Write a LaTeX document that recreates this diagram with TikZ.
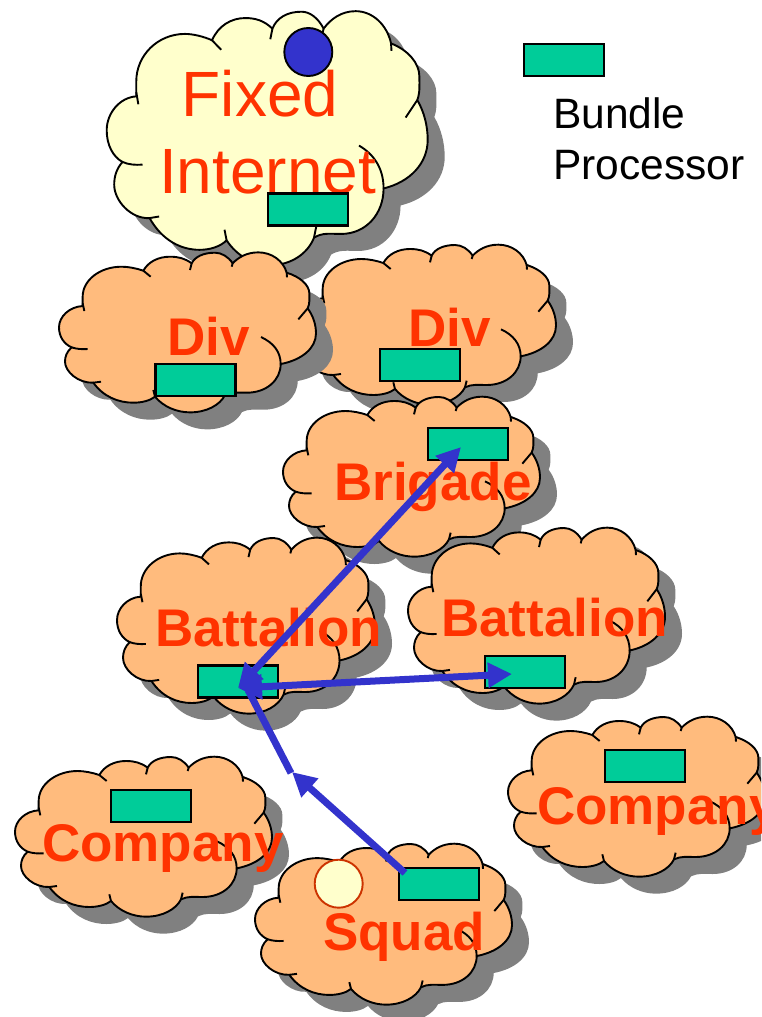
\documentclass[tikz,border=0pt]{standalone}
\usepackage{fontspec}
\setmainfont{Liberation Sans}
\usetikzlibrary{arrows.meta}
\definecolor{cloudyellow}{RGB}{255,255,204}
\definecolor{cloudorange}{RGB}{255,187,125}
\definecolor{shadowgray}{RGB}{128,128,128}
\definecolor{bundlegreen}{RGB}{0,204,153}
\definecolor{linkblue}{RGB}{51,51,204}
\definecolor{labelred}{RGB}{255,51,0}
\definecolor{ringred}{RGB}{204,51,0}
\newcommand{\cloudbody}{(128,198) .. controls (88,200) and (57,230) .. (57,262) .. controls (57,290) and (72,312) .. (95,322)
 .. controls (80,335) and (75,350) .. (75,365) .. controls (75,395) and (115,430) .. (160,428)
 .. controls (190,470) and (235,488) .. (280,488) .. controls (305,488) and (330,482) .. (345,470)
 .. controls (370,500) and (410,517) .. (450,517) .. controls (500,517) and (540,495) .. (555,465)
 .. controls (575,455) and (595,458) .. (620,458) .. controls (680,458) and (722,420) .. (722,372)
 .. controls (785,360) and (828,325) .. (828,280) .. controls (828,255) and (820,228) .. (803,205)
 .. controls (810,190) and (808,175) .. (808,160) .. controls (808,135) and (780,110) .. (740,98)
 .. controls (730,62) and (695,37) .. (655,37) .. controls (620,37) and (595,52) .. (578,70)
 .. controls (565,50) and (545,38) .. (525,38) .. controls (490,38) and (465,50) .. (455,70)
 .. controls (435,55) and (415,50) .. (390,50) .. controls (355,50) and (325,65) .. (310,92)
 .. controls (290,85) and (265,80) .. (245,80) .. controls (180,80) and (128,120) .. (128,170) -- cycle}
\newcommand{\mycloud}[5]{%
 \begin{scope}[shift={(#1+17,#2+17)},xscale={#3/771},yscale={#4/480},shift={(-57,-38)}]
  \fill[shadowgray] \cloudbody;
 \end{scope}
 \begin{scope}[shift={(#1,#2)},xscale={#3/771},yscale={#4/480},shift={(-57,-38)}]
  \filldraw[cloudline,fill=#5] \cloudbody;
  \draw[cloudline] (128,190) -- (133,213);
  \draw[cloudline] (95,322) .. controls (110,327) and (125,328) .. (143,327);
  \draw[cloudline] (160,428) -- (183,425);
  \draw[cloudline] (345,470) -- (340,450);
  \draw[cloudline] (555,465) -- (560,445);
  \draw[cloudline] (722,372) .. controls (722,335) and (700,308) .. (663,291);
  \draw[cloudline] (803,205) -- (775,238);
  \draw[cloudline] (740,98) -- (741,112);
  \draw[cloudline] (578,70) -- (575,80);
  \draw[cloudline] (455,70) -- (450,90);
  \draw[cloudline] (310,92) -- (332,110);
 \end{scope}}
\tikzset{
 cloudline/.style={draw=black,line width=1.9pt,line join=round},
 bundle/.style={draw=black,line width=2.2pt,fill=bundlegreen,minimum width=80pt,minimum height=32pt,inner sep=0pt},
 biglabel/.style={anchor=base west,inner sep=0pt,text=labelred,font=\fontsize{64}{64}\selectfont},
 boldlabel/.style={anchor=base west,inner sep=0pt,text=labelred,font=\fontsize{53}{53}\selectfont\bfseries},
 legendlabel/.style={anchor=base west,inner sep=0pt,text=black,font=\fontsize{42.5}{42.5}\selectfont},
 link/.style={draw=linkblue,line width=7pt},
 hubends/.style={{Triangle[length=24pt,width=24pt,color=linkblue]}-{Triangle[length=24pt,width=24pt,color=linkblue]}},
 tipend/.style={-{Triangle[length=24pt,width=24pt,color=linkblue]}}
}
\begin{document}
\begin{tikzpicture}[x=1pt,y=-1pt]
\clip (0,0) rectangle (761,1017);
\fill[white] (0,0) rectangle (761,1017);
% clouds
\mycloud{106.7}{11.7}{321}{254}{cloudyellow}
\mycloud{299}{245}{257}{160}{cloudorange}
\mycloud{59}{252.7}{257}{160}{cloudorange}
\mycloud{283}{397}{257}{160}{cloudorange}
\mycloud{117}{538}{258}{176}{cloudorange}
\mycloud{408}{528}{257}{176}{cloudorange}
\mycloud{15}{757}{257}{160}{cloudorange}
\mycloud{508}{717}{257}{160}{cloudorange}
\mycloud{255}{844}{257}{161}{cloudorange}
% labels
\node[biglabel] (fixed) at (181.5,116) {Fixed};
\node[biglabel] (internet) at (159,193) {Internet};
\node[boldlabel] (divone) at (167,355) {Div};
\node[boldlabel] (divtwo) at (408,346) {Div};
\node[boldlabel] (brigade) at (334,500) {Brigade};
\node[boldlabel] (batone) at (155,646) {Battalion};
\node[boldlabel] (battwo) at (441,636) {Battalion};
\node[boldlabel] (compone) at (42,861) {Company};
\node[boldlabel] (comptwo) at (537,824) {Company};
\node[boldlabel] (squad) at (323,950) {Squad};
\node[legendlabel] (bundleword) at (553,128) {Bundle};
\node[legendlabel] (processorword) at (553,179) {Processor};
% bundle processors
\node[bundle] (legendbox) at (564,60) {};
\node[bundle] (fixedbox) at (308,209.5) {};
\node[bundle] (divonebox) at (195.5,380) {};
\node[bundle] (divtwobox) at (420,365) {};
\node[bundle] (brigadebox) at (468,444) {};
\node[bundle] (batonebox) at (238,681.5) {};
\node[bundle] (battwobox) at (525,672) {};
\node[bundle] (componebox) at (151,806) {};
\node[bundle] (comptwobox) at (645,766) {};
\node[bundle] (squadbox) at (439,884) {};
% circles
\node[circle,draw=black,line width=1.9pt,fill=linkblue,minimum size=48pt,inner sep=0pt] (gateway) at (308.3,52) {};
\node[circle,draw=ringred,line width=1.9pt,fill=cloudyellow,minimum size=48pt,inner sep=0pt] (host) at (338.7,883.7) {};
% connectors
\coordinate (hub) at (238,688);
\coordinate (bend) at (248,690);
\coordinate (brigadeend) at (461,447);
\coordinate (battwoend) at (512,674);
\coordinate (relayfoot) at (291,773);
\coordinate (relaytip) at (292,772);
\coordinate (squadstart) at (405,873);
\draw[link,hubends] (hub) -- (brigadeend);
\draw[link,hubends] (hub) -- (battwoend);
\draw[link] (bend) -- (relayfoot);
\draw[link,tipend] (squadstart) -- (relaytip);
\end{tikzpicture}
\end{document}
